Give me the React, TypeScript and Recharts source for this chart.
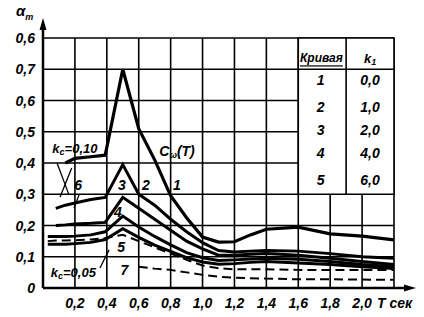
import React from "react";
import {
  LineChart,
  Line,
  XAxis,
  YAxis,
  CartesianGrid,
  ReferenceArea,
  ReferenceLine,
  ReferenceDot,
} from "recharts";

const FONT = '"Liberation Sans Narrow", "Liberation Sans", Arial, sans-serif';

// period T, sec
const periods = [0.03, 0.08, 0.14, 0.2, 0.3, 0.39, 0.5, 0.6, 0.7, 0.8, 0.9, 1.0, 1.1, 1.2, 1.3, 1.4, 1.6, 1.8, 2.0, 2.2];

// curves (alpha_T)
const curve1 = [null, null, 0.4, 0.415, 0.42, 0.425, 0.7, 0.51, 0.41, 0.295, 0.225, 0.163, 0.147, 0.148, 0.17, 0.188, 0.195, 0.173, 0.166, 0.154];
const curve2 = [null, 0.255, 0.265, 0.272, 0.283, 0.29, 0.395, 0.3, 0.265, 0.22, 0.18, 0.145, 0.12, 0.115, 0.118, 0.12, 0.118, 0.11, 0.1, 0.095];
const curve3 = [null, 0.2, 0.202, 0.205, 0.207, 0.21, 0.29, 0.255, 0.22, 0.185, 0.15, 0.125, 0.105, 0.105, 0.108, 0.11, 0.105, 0.095, 0.085, 0.075];
const curve4 = [0.165, 0.165, 0.165, 0.166, 0.17, 0.18, 0.23, 0.195, 0.165, 0.138, 0.113, 0.097, 0.088, 0.09, 0.093, 0.095, 0.092, 0.085, 0.075, 0.068];
const curve5 = [0.14, 0.14, 0.14, 0.142, 0.146, 0.155, 0.19, 0.162, 0.137, 0.117, 0.097, 0.083, 0.076, 0.078, 0.082, 0.085, 0.08, 0.075, 0.068, 0.062];
const dashKc = [0.15, 0.152, 0.152, 0.153, 0.155, 0.16, 0.17, 0.15, 0.13, 0.11, 0.09, 0.072, 0.063, 0.06, 0.06, 0.06, 0.058, 0.058, 0.058, 0.058];
const dash7 = [null, null, null, null, null, null, null, 0.068, 0.062, 0.058, 0.05, 0.042, 0.036, 0.033, 0.031, 0.03, 0.028, 0.028, 0.027, 0.026];

const xTicks = [0, 0.2, 0.4, 0.6, 0.8, 1.0, 1.2, 1.4, 1.6, 1.8, 2.0, 2.2];
const xTickLabels = ["", "0,2", "0,4", "0,6", "0,8", "1,0", "1,2", "1,4", "1,6", "1,8", "2,0", "T сек"];
const yTicks = [0, 0.1, 0.2, 0.3, 0.4, 0.5, 0.6, 0.7, 0.8];
const yTickLabels = ["0", "0,1", "0,2", "0,3", "0,4", "0,5", "0,6", "0,7", "0,6"];

// table in the upper right corner
const tableCurves = ["1", "2", "3", "4", "5"];
const tableK = ["0,0", "1,0", "2,0", "4,0", "6,0"];
const tableRowY = [0.665, 0.58, 0.505, 0.432, 0.345];

const data = periods.map((t, i) => ({
  t,
  c1: curve1[i],
  c2: curve2[i],
  c3: curve3[i],
  c4: curve4[i],
  c5: curve5[i],
  dk: dashKc[i],
  d7: dash7[i],
}));

const txt = {
  fontFamily: FONT,
  fontStyle: "italic",
  fontWeight: "bold",
  fill: "#000",
} as const;

const tag = (key: string, x: number, y: number, body: React.ReactNode, size = 14, deco?: string) => (
  <ReferenceDot
    key={key}
    x={x}
    y={y}
    r={0}
    ifOverflow="visible"
    shape={(p: any) => (
      <text
        x={p.cx}
        y={p.cy}
        textAnchor="middle"
        dominantBaseline="central"
        fontSize={size}
        textDecoration={deco}
        {...txt}
      >
        {body}
      </text>
    )}
  />
);

const sub = (main: string, s: string, rest = "") => (
  <>
    <tspan>{main}</tspan>
    <tspan fontSize={9} dy={4}>{s}</tspan>
    <tspan dy={-4}>{rest}</tspan>
  </>
);

const XTick = ({ x, y, payload }: any) => {
  const i = xTicks.indexOf(payload.value);
  const last = i === xTicks.length - 1;
  return (
    <text
      x={last ? x - 17 : x}
      y={y + 13}
      textAnchor={last ? "start" : "middle"}
      dominantBaseline="central"
      fontSize={14}
      {...txt}
    >
      {xTickLabels[i]}
    </text>
  );
};

const YTick = ({ x, y, payload }: any) => {
  const i = yTicks.indexOf(payload.value);
  return (
    <text x={x - 6} y={y} textAnchor="end" dominantBaseline="central" fontSize={14} {...txt}>
      {yTickLabels[i]}
    </text>
  );
};

const leaders: [number, number, number, number][] = [
  [0.088, 0.4, 0.163, 0.298],
  [0.18, 0.384, 0.107, 0.291],
  [0.226, 0.298, 0.194, 0.256],
  [0.357, 0.064, 0.414, 0.122],
];

export default function App() {
  return (
    <div style={{ position: "absolute", left: 0, top: 0, width: 424, height: 317, background: "#fff" }}>
      <LineChart width={424} height={317} data={data} margin={{ top: 38, right: 30, bottom: 0, left: 8 }}>
        <CartesianGrid stroke="#000" strokeWidth={1.6} strokeOpacity={1} />
        <XAxis
          dataKey="t"
          type="number"
          domain={[0, 2.2]}
          ticks={xTicks}
          tickLine={false}
          tickSize={0}
          height={29}
          axisLine={{ stroke: "#000", strokeWidth: 2.5 }}
          tick={<XTick />}
          interval={0}
        />
        <YAxis
          type="number"
          domain={[0, 0.8]}
          ticks={yTicks}
          tickLine={false}
          tickSize={0}
          width={35}
          axisLine={{ stroke: "#000", strokeWidth: 2.5 }}
          tick={<YTick />}
          interval={0}
        />
        <ReferenceArea x1={1.6} x2={2.2} y1={0.3} y2={0.8} fill="#fff" fillOpacity={1} stroke="#000" strokeWidth={1.6} />
        <ReferenceLine segment={[{ x: 1.9, y: 0.3 }, { x: 1.9, y: 0.8 }]} stroke="#000" strokeWidth={1.6} />
        <ReferenceLine segment={[{ x: 1.6, y: 0.7 }, { x: 2.2, y: 0.7 }]} stroke="#000" strokeWidth={1.6} />
        {leaders.map((l, i) => (
          <ReferenceLine key={"ld" + i} segment={[{ x: l[0], y: l[1] }, { x: l[2], y: l[3] }]} stroke="#000" strokeWidth={1.3} />
        ))}

        <Line dataKey="c1" stroke="#000" strokeWidth={3.2} dot={false} isAnimationActive={false} />
        <Line dataKey="c2" stroke="#000" strokeWidth={3} dot={false} isAnimationActive={false} />
        <Line dataKey="c3" stroke="#000" strokeWidth={3} dot={false} isAnimationActive={false} />
        <Line dataKey="c4" stroke="#000" strokeWidth={3} dot={false} isAnimationActive={false} />
        <Line dataKey="c5" stroke="#000" strokeWidth={3} dot={false} isAnimationActive={false} />
        <Line dataKey="dk" stroke="#000" strokeWidth={2} strokeDasharray="9 5" dot={false} isAnimationActive={false} />
        <Line dataKey="d7" stroke="#000" strokeWidth={2} strokeDasharray="9 5" dot={false} isAnimationActive={false} />

        {tag("h1", 1.745, 0.735, "Кривая", 12, "underline")}
        {tag("h2", 2.05, 0.735, sub("k", "1"), 13)}
        {tableCurves.map((c, i) => tag("tc" + i, 1.74, tableRowY[i], c))}
        {tableK.map((k, i) => tag("tk" + i, 2.05, tableRowY[i], k))}

        {tag("l1", 0.84, 0.33, "1")}
        {tag("l2", 0.645, 0.33, "2")}
        {tag("l3", 0.495, 0.33, "3")}
        {tag("l6", 0.22, 0.33, "6")}
        {tag("l4", 0.47, 0.243, "4")}
        {tag("l5", 0.49, 0.13, "5")}
        {tag("l7", 0.51, 0.058, "7")}
        {tag("cw", 0.84, 0.44, sub("C", "ω", "(T)"))}
        {tag("kc1", 0.2, 0.448, sub("k", "c", "=0,10"), 13)}
        {tag("kc2", 0.19, 0.051, sub("k", "c", "=0,05"), 13)}
      </LineChart>
      <svg width={424} height={317} style={{ position: "absolute", left: 0, top: 0, pointerEvents: "none" }}>
        <line x1={43} y1={38} x2={43} y2={24} stroke="#000" strokeWidth={2.5} />
        <polygon points="43,18 39.5,30 46.5,30" fill="#000" />
        <line x1={394} y1={288} x2={408} y2={288} stroke="#000" strokeWidth={2.5} />
        <polygon points="416,288 404,284.5 404,291.5" fill="#000" />
        <text x={16} y={16} fontSize={15} {...txt}>
          α<tspan fontSize={9} dy={4}>т</tspan>
        </text>
      </svg>
    </div>
  );
}
